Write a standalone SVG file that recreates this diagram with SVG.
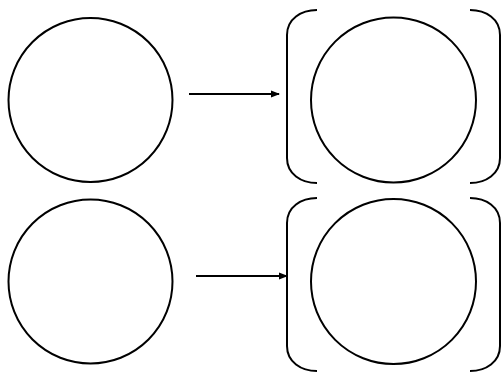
<svg xmlns="http://www.w3.org/2000/svg" width="502" height="372" viewBox="0 0 502 372">
<style>
.s{fill:none;stroke:#000;stroke-width:2}
.c{fill:#fff;stroke:#000;stroke-width:2}
</style>
<defs>
<marker id="ah" markerWidth="9" markerHeight="8" refX="8" refY="4" orient="auto" markerUnits="userSpaceOnUse">
<path d="M0,0.5 L9,4 L0,7.5 Z" fill="#000"/>
</marker>
</defs>
<rect width="502" height="372" fill="#fff"/>
<g id="n1"><circle class="c" cx="90.5" cy="100" r="82"/></g>
<g id="n2">
<path class="s" d="M317,10 C301,10 287,19 287,35 L287,158 C287,174 301,183 317,183"/>
<path class="s" d="M470,10 C486,10 500,19 500,35 L500,158 C500,174 486,183 470,183"/>
<circle class="c" cx="393.5" cy="100" r="82.5"/>
</g>
<g id="n3"><circle class="c" cx="90.5" cy="281.5" r="82"/></g>
<g id="n4">
<path class="s" d="M317,198 C301,198 287,207 287,223 L287,346 C287,362 301,371 317,371"/>
<path class="s" d="M470,198 C486,198 500,207 500,223 L500,346 C500,362 486,371 470,371"/>
<circle class="c" cx="393.5" cy="281.5" r="82.5"/>
</g>
<g id="connectors">
<line class="s" x1="189" y1="94" x2="279" y2="94" marker-end="url(#ah)"/>
<line class="s" x1="196" y1="276" x2="287" y2="276" marker-end="url(#ah)"/>
</g>
</svg>
